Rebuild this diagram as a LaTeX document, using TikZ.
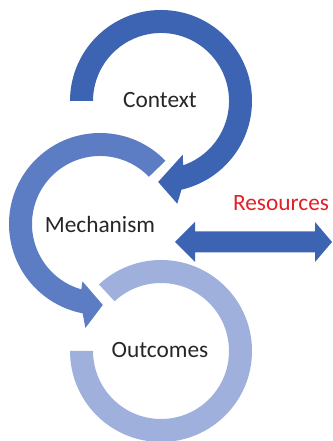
\documentclass[tikz,border=0pt]{standalone}
\usepackage{fontspec}
\setmainfont{Carlito}
\definecolor{ctxblue}{RGB}{61,100,178}
\definecolor{mechblue}{RGB}{92,124,196}
\definecolor{outblue}{RGB}{159,176,220}
\definecolor{resred}{RGB}{226,32,38}
\begin{document}
\begin{tikzpicture}[x=.75pt, y=.75pt, lbl/.style={font=\fontsize{17.5}{21}\selectfont, text=black!85, anchor=base, inner sep=0pt}]
\useasboundingbox (0,0) rectangle (332,441);
\begin{scope}[shift={(161,90)}]
\fill[outblue](180:91) arc[start angle=180, end angle=493, radius=91]--(493:68) arc[start angle=493, end angle=180, radius=68]--cycle;
\end{scope}
\begin{scope}[shift={(100,217)}]
\fill[mechblue](44:91) arc[start angle=44, end angle=259, radius=91]--(262:105)--(272:81)--(253:60)--(254:68) arc[start angle=254, end angle=44, radius=68]--cycle;
\end{scope}
\begin{scope}[shift={(161,340)}]
\fill[ctxblue](180:91) arc[start angle=180, end angle=-77, radius=91]--(-81:104)--(-92:81)--(-68:58)--(-71:68) arc[start angle=-71, end angle=180, radius=68]--cycle;
\end{scope}
\fill[ctxblue](175,199)--(195,219)--(195,209.5)--(315,209.5)--(315,219)--(332,199)--(315,179)--(315,188.5)--(195,188.5)--(195,179)--cycle;
\node[lbl](ctx) at (160,333){Context};
\node[lbl](mech) at (100,208){Mechanism};
\node[lbl](out) at (160,83){Outcomes};
\node[lbl, text=resred](res) at (281,230){Resources};
\end{tikzpicture}
\end{document}
